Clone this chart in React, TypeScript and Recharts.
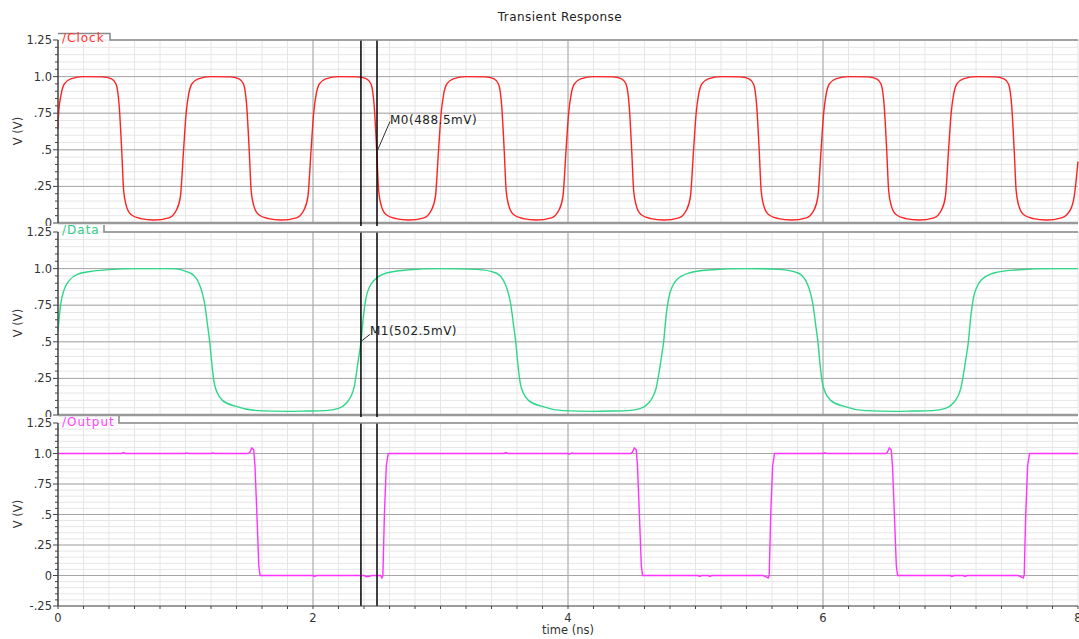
import { LineChart, Line, XAxis, YAxis, CartesianGrid, ReferenceLine, ReferenceDot } from 'recharts';

type Pt = [number, number];

// time axis (ns)
const timeTicks = [
  0, 0.2, 0.4, 0.6, 0.8, 1, 1.2, 1.4, 1.6, 1.8, 2, 2.2, 2.4, 2.6, 2.8, 3, 3.2, 3.4, 3.6, 3.8, 4,
  4.2, 4.4, 4.6, 4.8, 5, 5.2, 5.4, 5.6, 5.8, 6, 6.2, 6.4, 6.6, 6.8, 7, 7.2, 7.4, 7.6, 7.8, 8,
];
const timeLabels = [0, 2, 4, 6, 8];
const timeMajor = [2, 4, 6];

// voltage axis (V)
const voltTicks = [
  -0.25, -0.2, -0.15, -0.1, -0.05, 0, 0.05, 0.1, 0.15, 0.2, 0.25, 0.3, 0.35, 0.4, 0.45, 0.5,
  0.55, 0.6, 0.65, 0.7, 0.75, 0.8, 0.85, 0.9, 0.95, 1, 1.05, 1.1, 1.15, 1.2, 1.25,
];
const voltMajor = [-0.25, 0, 0.25, 0.5, 0.75, 1, 1.25];

const clockWave: Pt[] = [
  [0, 0.64], [0.005, 0.75], [0.025, 0.88], [0.05, 0.95], [0.1, 0.985], [0.2, 1.0], [0.35, 0.998],
  [0.42, 0.985], [0.455, 0.95], [0.48, 0.8], [0.5, 0.49], [0.515, 0.22], [0.535, 0.12], [0.57, 0.06],
  [0.65, 0.03], [0.75, 0.02], [0.87, 0.035], [0.93, 0.09], [0.96, 0.18], [0.985, 0.5],
  [1.005, 0.75], [1.025, 0.88], [1.05, 0.95], [1.1, 0.985], [1.2, 1.0], [1.35, 0.998],
  [1.42, 0.985], [1.455, 0.95], [1.48, 0.8], [1.5, 0.49], [1.515, 0.22], [1.535, 0.12], [1.57, 0.06],
  [1.65, 0.03], [1.75, 0.02], [1.87, 0.035], [1.93, 0.09], [1.96, 0.18], [1.985, 0.5],
  [2.005, 0.75], [2.025, 0.88], [2.05, 0.95], [2.1, 0.985], [2.2, 1.0], [2.35, 0.998],
  [2.42, 0.985], [2.455, 0.95], [2.48, 0.8], [2.5, 0.49], [2.515, 0.22], [2.535, 0.12], [2.57, 0.06],
  [2.65, 0.03], [2.75, 0.02], [2.87, 0.035], [2.93, 0.09], [2.96, 0.18], [2.985, 0.5],
  [3.005, 0.75], [3.025, 0.88], [3.05, 0.95], [3.1, 0.985], [3.2, 1.0], [3.35, 0.998],
  [3.42, 0.985], [3.455, 0.95], [3.48, 0.8], [3.5, 0.49], [3.515, 0.22], [3.535, 0.12], [3.57, 0.06],
  [3.65, 0.03], [3.75, 0.02], [3.87, 0.035], [3.93, 0.09], [3.96, 0.18], [3.985, 0.5],
  [4.005, 0.75], [4.025, 0.88], [4.05, 0.95], [4.1, 0.985], [4.2, 1.0], [4.35, 0.998],
  [4.42, 0.985], [4.455, 0.95], [4.48, 0.8], [4.5, 0.49], [4.515, 0.22], [4.535, 0.12], [4.57, 0.06],
  [4.65, 0.03], [4.75, 0.02], [4.87, 0.035], [4.93, 0.09], [4.96, 0.18], [4.985, 0.5],
  [5.005, 0.75], [5.025, 0.88], [5.05, 0.95], [5.1, 0.985], [5.2, 1.0], [5.35, 0.998],
  [5.42, 0.985], [5.455, 0.95], [5.48, 0.8], [5.5, 0.49], [5.515, 0.22], [5.535, 0.12], [5.57, 0.06],
  [5.65, 0.03], [5.75, 0.02], [5.87, 0.035], [5.93, 0.09], [5.96, 0.18], [5.985, 0.5],
  [6.005, 0.75], [6.025, 0.88], [6.05, 0.95], [6.1, 0.985], [6.2, 1.0], [6.35, 0.998],
  [6.42, 0.985], [6.455, 0.95], [6.48, 0.8], [6.5, 0.49], [6.515, 0.22], [6.535, 0.12], [6.57, 0.06],
  [6.65, 0.03], [6.75, 0.02], [6.87, 0.035], [6.93, 0.09], [6.96, 0.18], [6.985, 0.5],
  [7.005, 0.75], [7.025, 0.88], [7.05, 0.95], [7.1, 0.985], [7.2, 1.0], [7.35, 0.998],
  [7.42, 0.985], [7.455, 0.95], [7.48, 0.8], [7.5, 0.49], [7.515, 0.22], [7.535, 0.12], [7.57, 0.06],
  [7.65, 0.03], [7.75, 0.02], [7.87, 0.035], [7.94, 0.09], [7.97, 0.18], [8.0, 0.42],
];

const dataWave: Pt[] = [
  [0, 0.57], [0.02, 0.75], [0.05, 0.86], [0.09, 0.92], [0.15, 0.96], [0.25, 0.98], [0.4, 0.993], [0.6, 1.0],
  [0.89, 1.0], [1.035, 0.97], [1.11, 0.89], [1.15, 0.76], [1.175, 0.6], [1.19, 0.5], [1.21, 0.32],
  [1.225, 0.22], [1.25, 0.15], [1.29, 0.1], [1.39, 0.06], [1.56, 0.03], [1.8, 0.025], [1.95, 0.027],
  [2.1, 0.03], [2.2, 0.045], [2.26, 0.08], [2.32, 0.18], [2.356, 0.38], [2.376, 0.5], [2.396, 0.68],
  [2.416, 0.8], [2.446, 0.88], [2.48, 0.92], [2.576, 0.97], [2.73, 0.99], [3.0, 1.0],
  [3.29, 0.995], [3.435, 0.97], [3.51, 0.89], [3.55, 0.76], [3.575, 0.6], [3.59, 0.5], [3.61, 0.32],
  [3.625, 0.22], [3.65, 0.15], [3.69, 0.1], [3.79, 0.06], [3.96, 0.03], [4.2, 0.025], [4.35, 0.027],
  [4.47, 0.03], [4.57, 0.045], [4.63, 0.08], [4.69, 0.18], [4.73, 0.38], [4.75, 0.5], [4.77, 0.68],
  [4.79, 0.8], [4.82, 0.88], [4.85, 0.92], [4.95, 0.97], [5.1, 0.99], [5.4, 1.0],
  [5.66, 0.995], [5.805, 0.97], [5.88, 0.89], [5.92, 0.76], [5.945, 0.6], [5.96, 0.5], [5.98, 0.32],
  [5.995, 0.22], [6.02, 0.15], [6.06, 0.1], [6.16, 0.06], [6.33, 0.03], [6.57, 0.025], [6.7, 0.027],
  [6.86, 0.03], [6.96, 0.045], [7.02, 0.08], [7.08, 0.18], [7.12, 0.38], [7.14, 0.5], [7.16, 0.68],
  [7.18, 0.8], [7.21, 0.88], [7.24, 0.92], [7.34, 0.97], [7.5, 0.99], [7.8, 1.0], [8.0, 1.0],
];

const outputWave: Pt[] = [
  [0, 1.0], [0.5, 1.0], [0.51, 1.008], [0.53, 1.0], [1.0, 1.0], [1.01, 1.005], [1.03, 1.0],
  [1.2, 1.0], [1.21, 1.004], [1.23, 1.0], [1.49, 1.0], [1.505, 1.01], [1.52, 1.045], [1.535, 1.03],
  [1.545, 0.9], [1.56, 0.5], [1.575, 0.08], [1.585, 0.0], [2.0, 0.0], [2.01, -0.008], [2.03, 0.0],
  [2.4, 0.0], [2.42, -0.01], [2.45, -0.005], [2.46, 0.0], [2.53, 0.0], [2.54, -0.02], [2.548, 0.0],
  [2.56, 0.5], [2.575, 0.9], [2.59, 1.0], [3.5, 1.0], [3.51, 1.008], [3.53, 1.0], [4.0, 1.0],
  [4.01, 0.995], [4.03, 1.005], [4.05, 1.0], [4.49, 1.0], [4.505, 1.01], [4.52, 1.045], [4.535, 1.03],
  [4.545, 0.9], [4.56, 0.5], [4.575, 0.08], [4.585, 0.0], [5.02, 0.0], [5.03, -0.008], [5.05, 0.0],
  [5.1, 0.0], [5.11, -0.008], [5.13, 0.0], [5.53, 0.0], [5.55, -0.01], [5.57, -0.02], [5.578, 0.0],
  [5.59, 0.5], [5.605, 0.9], [5.62, 1.0], [6.0, 1.0], [6.01, 1.006], [6.03, 1.0], [6.49, 1.0],
  [6.505, 1.01], [6.52, 1.045], [6.535, 1.03], [6.545, 0.9], [6.56, 0.5], [6.575, 0.08], [6.585, 0.0],
  [7.0, 0.0], [7.01, -0.008], [7.03, 0.0], [7.1, 0.0], [7.11, -0.008], [7.13, 0.0], [7.53, 0.0],
  [7.55, -0.01], [7.57, -0.02], [7.578, 0.0], [7.59, 0.5], [7.605, 0.9], [7.62, 1.0], [8.0, 1.0],
];

// cursor markers: time in ns, value in V
const markerTimes = [2.376, 2.502];
const markerClock = { name: 'M0', t: 2.502, v: 0.4885 };
const markerData = { name: 'M1', t: 2.376, v: 0.5025 };

const FONT = '"DejaVu Sans", Verdana, sans-serif';
const W = 1079;

const toRows = (pts: Pt[]) => pts.map(([t, v]) => ({ t, v }));

function fmtVolt(v: number) {
  if (v === 0) return '0';
  if (v === 1) return '1.0';
  const s = Math.abs(v).toString().replace(/^0/, '');
  return v < 0 ? '-' + s : s;
}

function VoltTick(props: any) {
  const { x, y, payload } = props;
  const major = voltMajor.includes(payload.value);
  return (
    <g>
      <line x1={x + (major ? 1 : 3)} x2={x + 6} y1={y} y2={y} stroke="#444" />
      {major && (
        <text x={x} y={y} dy={4} textAnchor="end" fontSize={11.5} fill="#333" fontFamily={FONT}>
          {fmtVolt(payload.value)}
        </text>
      )}
    </g>
  );
}

function TimeTick(props: any) {
  const { x, y, payload } = props;
  if (!timeLabels.includes(payload.value)) return <g />;
  return (
    <text x={x} y={y} dy={10} textAnchor="middle" fontSize={11.5} fill="#333" fontFamily={FONT}>
      {payload.value}
    </text>
  );
}

const markerShape = (label: string, dx: number, dy: number, ty: number) => (props: any) => {
  const { cx, cy } = props;
  return (
    <g>
      <line x1={cx} y1={cy} x2={cx + dx} y2={cy + dy} stroke="#333" />
      <text x={cx + dx} y={cy + ty} fontSize={12} letterSpacing={0.5} fill="#222" fontFamily={FONT}>
        {label}
      </text>
    </g>
  );
};

interface PanelProps {
  pts: Pt[];
  color: string;
  domain: [number, number];
  height: number;
  top: number;
  bottom: number;
  showTime?: boolean;
  markerLow: number;
  lineType?: 'monotone' | 'linear';
  marker?: { name: string; t: number; v: number };
  markerOffset?: [number, number, number];
}

function Panel({ pts, color, domain, height, top, bottom, showTime, markerLow, lineType = 'monotone', marker, markerOffset }: PanelProps) {
  const ticks = voltTicks.filter((v) => v >= domain[0] && v <= domain[1]);
  const majors = voltMajor.filter((v) => v > domain[0] && v < domain[1] && !(v === 0 && domain[0] === 0));
  return (
    <LineChart width={W} height={height} data={toRows(pts)} margin={{ top, right: 1, bottom, left: 0 }}>
      <CartesianGrid stroke="#e6e6e6" strokeWidth={1} />
      <XAxis
        dataKey="t"
        type="number"
        domain={[0, 8]}
        ticks={timeTicks}
        interval={0}
        hide={!showTime}
        height={30}
        tickSize={3}
        tickMargin={3}
        tick={<TimeTick />}
        axisLine={{ stroke: '#444' }}
        tickLine={{ stroke: '#444' }}
        label={{ value: 'time (ns)', position: 'insideBottom', offset: 2, fontSize: 11.5, fill: '#333', fontFamily: FONT }}
      />
      <YAxis
        type="number"
        domain={domain}
        ticks={ticks}
        interval={0}
        width={58}
        tickSize={5}
        tickMargin={1}
        tickLine={false}
        tick={<VoltTick />}
        axisLine={{ stroke: '#444', strokeWidth: 1.5 }}
      />
      {majors.map((v) => (
        <ReferenceLine key={'h' + v} y={v} stroke="#a6a6a6" />
      ))}
      {timeMajor.map((t) => (
        <ReferenceLine key={'v' + t} x={t} stroke="#a6a6a6" />
      ))}
      {domain[0] === 0 && <ReferenceLine y={0} stroke="#999" strokeWidth={2.5} />}
      <Line
        type={lineType}
        dataKey="v"
        stroke={color}
        strokeWidth={1.4}
        dot={false}
        isAnimationActive={false}
      />
      {markerTimes.map((t) => (
        <ReferenceLine
          key={'m' + t}
          segment={[{ x: t, y: markerLow }, { x: t, y: domain[1] }]}
          stroke="#000"
          strokeWidth={1.5}
          ifOverflow="visible"
        />
      ))}
      {marker && markerOffset && (
        <ReferenceDot
          x={marker.t}
          y={marker.v}
          r={0}
          shape={markerShape(`${marker.name}(${(marker.v * 1000).toFixed(1)}mV)`, markerOffset[0], markerOffset[1], markerOffset[2])}
        />
      )}
    </LineChart>
  );
}

export default function App() {
  return (
    <div style={{ position: 'absolute', left: 0, top: 0, width: W, height: 639, background: '#fff', fontFamily: FONT }}>
      <div style={{ position: 'absolute', left: 0, top: 0 }}>
        <Panel pts={clockWave} color="#ff2020" domain={[0, 1.25]} height={226} top={40} bottom={3} markerLow={-0.062}
          marker={markerClock} markerOffset={[13, -30, -27]} />
      </div>
      <div style={{ position: 'absolute', left: 0, top: 226 }}>
        <Panel pts={dataWave} color="#2fd68a" domain={[0, 1.25]} height={191} top={6} bottom={2} markerLow={-0.056}
          marker={markerData} markerOffset={[9, -7, -6]} />
      </div>
      <div style={{ position: 'absolute', left: 0, top: 415 }}>
        <Panel pts={outputWave} color="#ff33ff" domain={[-0.25, 1.25]} height={224} top={8} bottom={3} markerLow={-0.25}
          showTime lineType="linear" />
      </div>
      <svg width={W} height={639} style={{ position: 'absolute', left: 0, top: 0, pointerEvents: 'none' }}>
        <text x={560} y={21} textAnchor="middle" fontSize={12} letterSpacing={0.45} fill="#222" fontFamily={FONT}>Transient Response</text>
        <path d="M58,33.5 H110 V40 H1078" fill="none" stroke="#888" strokeWidth={1.5} />
        <text x={62} y={42} fontSize={12} letterSpacing={1} fill="#ff3333" fontFamily={FONT}>/Clock</text>
        <path d="M104,225 V232 H1078" fill="none" stroke="#888" strokeWidth={1.5} />
        <text x={62} y={234} fontSize={12} letterSpacing={1} fill="#33cc88" fontFamily={FONT}>/Data</text>
        <path d="M119,416 V423 H1078" fill="none" stroke="#888" strokeWidth={1.5} />
        <text x={62} y={426} fontSize={12} letterSpacing={1} fill="#ff44ff" fontFamily={FONT}>/Output</text>
        {[131, 323, 514].map((cy) => (
          <text key={cy} x={18} y={cy} transform={`rotate(-90 18 ${cy})`} textAnchor="middle" dominantBaseline="central"
            fontSize={11.5} fill="#333" fontFamily={FONT}>V (V)</text>
        ))}
      </svg>
    </div>
  );
}
